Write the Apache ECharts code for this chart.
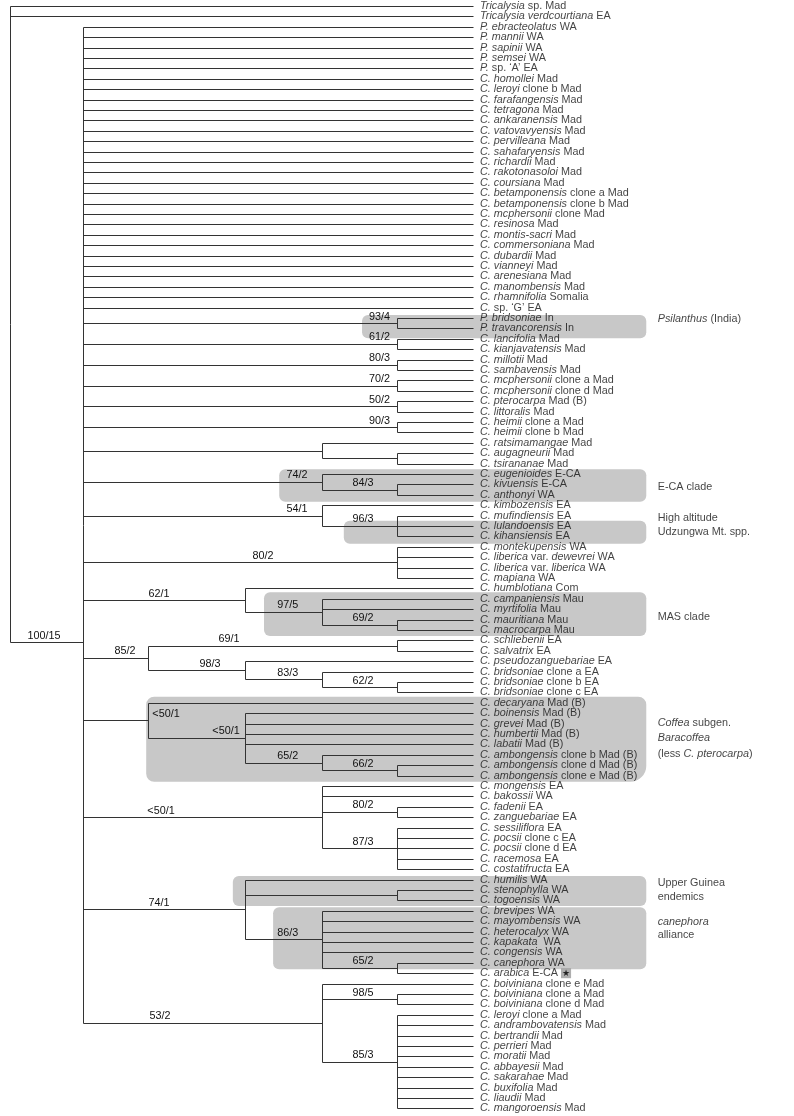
<!DOCTYPE html>
<html><head><meta charset="utf-8">
<script src="https://cdn.jsdelivr.net/npm/echarts@6/dist/echarts.min.js"></script>
<style>html,body{margin:0;padding:0;background:#fff}#c{width:794px;height:1116px}</style>
</head><body><div id="c"></div>
<script>
// ---------- DATA ----------
// taxon labels, top to bottom; *...* = italic
const taxa = [
 "*Tricalysia* sp. Mad","*Tricalysia verdcourtiana* EA","*P. ebracteolatus* WA","*P. mannii* WA","*P. sapinii* WA",
 "*P. semsei* WA","*P.* sp. ‘A’ EA","*C. homollei* Mad","*C. leroyi* clone b Mad","*C. farafangensis* Mad",
 "*C. tetragona* Mad","*C. ankaranensis* Mad","*C. vatovavyensis* Mad","*C. pervilleana* Mad","*C. sahafaryensis* Mad",
 "*C. richardii* Mad","*C. rakotonasoloi* Mad","*C. coursiana* Mad","*C. betamponensis* clone a Mad","*C. betamponensis* clone b Mad",
 "*C. mcphersonii* clone Mad","*C. resinosa* Mad","*C. montis-sacri* Mad","*C. commersoniana* Mad","*C. dubardii* Mad",
 "*C. vianneyi* Mad","*C. arenesiana* Mad","*C. manombensis* Mad","*C. rhamnifolia* Somalia","*C.* sp. ‘G’ EA",
 "*P. bridsoniae* In","*P. travancorensis* In","*C. lancifolia* Mad","*C. kianjavatensis* Mad","*C. millotii* Mad",
 "*C. sambavensis* Mad","*C. mcphersonii* clone a Mad","*C. mcphersonii* clone d Mad","*C. pterocarpa* Mad (B)","*C. littoralis* Mad",
 "*C. heimii* clone a Mad","*C. heimii* clone b Mad","*C. ratsimamangae* Mad","*C. augagneurii* Mad","*C. tsirananae* Mad",
 "*C. eugenioides* E-CA","*C. kivuensis* E-CA","*C. anthonyi* WA","*C. kimbozensis* EA","*C. mufindiensis* EA",
 "*C. lulandoensis* EA","*C. kihansiensis* EA","*C. montekupensis* WA","*C. liberica* var. *dewevrei* WA","*C. liberica* var. *liberica* WA",
 "*C. mapiana* WA","*C. humblotiana* Com","*C. campaniensis* Mau","*C. myrtifolia* Mau","*C. mauritiana* Mau",
 "*C. macrocarpa* Mau","*C. schliebenii* EA","*C. salvatrix* EA","*C. pseudozanguebariae* EA","*C. bridsoniae* clone a EA",
 "*C. bridsoniae* clone b EA","*C. bridsoniae* clone c EA","*C. decaryana* Mad (B)","*C. boinensis* Mad (B)","*C. grevei* Mad (B)",
 "*C. humbertii* Mad (B)","*C. labatii* Mad (B)","*C. ambongensis* clone b Mad (B)","*C. ambongensis* clone d Mad (B)","*C. ambongensis* clone e Mad (B)",
 "*C. mongensis* EA","*C. bakossii* WA","*C. fadenii* EA","*C. zanguebariae* EA","*C. sessiliflora* EA",
 "*C. pocsii* clone c EA","*C. pocsii* clone d EA","*C. racemosa* EA","*C. costatifructa* EA","*C. humilis* WA",
 "*C. stenophylla* WA","*C. togoensis* WA","*C. brevipes* WA","*C. mayombensis* WA","*C. heterocalyx* WA",
 "*C. kapakata*  WA","*C. congensis* WA","*C. canephora* WA","*C. arabica* E-CA {star|★}","*C. boiviniana* clone e Mad",
 "*C. boiviniana* clone a Mad","*C. boiviniana* clone d Mad","*C. leroyi* clone a Mad","*C. andrambovatensis* Mad","*C. bertrandii* Mad",
 "*C. perrieri* Mad","*C. moratii* Mad","*C. abbayesii* Mad","*C. sakarahae* Mad","*C. buxifolia* Mad",
 "*C. liaudii* Mad","*C. mangoroensis* Mad"
];
// topology (Newick, leaves = index in taxa), support values "bootstrap/decay" after ')'
const coffeaClade = "(2,3,4,5,6,7,8,9,10,11,12,13,14,15,16,17,18,19,20,21,22,23,24,25,26,27,28,29," +
 "(30,31)93/4,(32,33)61/2,(34,35)80/3,(36,37)70/2,(38,39)50/2,(40,41)90/3,(42,(43,44))," +
 "(45,(46,47)84/3)74/2,(48,(49,50,51)96/3)54/1,(52,53,54,55)80/2," +
 "(56,(57,58,(59,60)69/2)97/5)62/1,((61,62)69/1,(63,(64,(65,66)62/2)83/3)98/3)85/2," +
 "(67,(68,69,70,71,(72,(73,74)66/2)65/2)<50/1)<50/1,(75,76,(77,78)80/2,(79,80,81,82,83)87/3)<50/1," +
 "(84,(85,86),(87,88,89,90,91,(92,93)65/2)86/3)74/1," +
 "(94,(95,96)98/5,(97,98,99,100,101,102,103,104,105,106)85/3)53/2)100/15";
const treeNewick = "(0,1," + coffeaClade + ")";
// highlighted clades: [first taxon, last taxon]
const cladeRanges = [[30,31],[45,47],[49,51],[57,60],[67,74],[84,86],[87,92]];
const cladeNames = [
 ["*Psilanthus* (India)"],
 ["E-CA clade"],
 ["High altitude","Udzungwa Mt. spp."],
 ["MAS clade"],
 ["*Coffea* subgen.","*Baracoffea*","(less *C. pterocarpa*)"],
 ["Upper Guinea","endemics"],
 ["*canephora*","alliance"]
];

// ---------- LAYOUT (drawing only) ----------
const FONT = '"Liberation Sans", Arial, Helvetica, sans-serif';
const FS = 10.8;
const LINE = '#333';
const BOX = '#c8c8c8';
// display depth of a node of each height rank (0 = tips)
const depthOfRank = [0, 1, 1.99, 3.0, 4.28, 5.13, 6.09];
const coffeaRow = 61.2;          // row at which the root branch meets the Coffea clade
// box geometry in axis units: [left depth, top offset, bottom offset]
const boxGeom = [[1.46,-0.29,0.95],[2.55,-0.45,0.66],[1.70,0.49,0.70],[2.75,-0.62,0.58],[4.30,-0.59,0.59],[3.16,-0.35,0.54],[2.63,-0.34,0.63]];
const boxRight = -2.28;
const cladeTextX = -2.43;
const cladeTextY = [[30.1],[46.25],[49.2,50.55],[58.75],[68.94,70.4,71.95],[84.3,85.7],[88.05,89.33]];
// hand-placed support label centres (px) keyed by label@first tip
const labelCenter = {"100/15@2":44,"62/1@56":159,"85/2@61":125,"69/1@61":229,"98/3@63":210,
  "<50/1@67":166,"<50/1@68":226,"<50/1@75":161,"74/1@84":159,"53/2@94":160,"80/2@52":263,
  "74/2@45":297,"54/1@48":297};

function toRich(s){ return s.replace(/\*([^*]+)\*/g, '{i|$1}'); }

function parse(str){
  let pos=0;
  function node(){
    if(str[pos]==='('){
      pos++; const kids=[];
      while(true){ kids.push(node()); if(str[pos]===','){pos++;continue;} if(str[pos]===')'){pos++;break;} }
      let lab=''; while(pos<str.length && !',)('.includes(str[pos])) lab+=str[pos++];
      return {kids, label:lab};
    }
    let t=''; while(pos<str.length && !',)('.includes(str[pos])) t+=str[pos++];
    return {leaf:+t};
  }
  return node();
}
const root = parse(treeNewick);
function layout(n){
  if(n.kids===undefined){ n.rank=0; n.y=n.leaf; n.first=n.leaf; return; }
  n.kids.forEach(layout);
  n.rank = 1 + Math.max(...n.kids.map(k=>k.rank));
  n.y = (n.kids[0].y + n.kids[n.kids.length-1].y)/2;
  n.first = n.kids[0].first;
  if(n.label==='100/15') n.y = coffeaRow;
}
layout(root);
const D = n => depthOfRank[n.rank];

const segs=[], supports=[];
(function walk(n, parent){
  if(parent){ segs.push([D(parent), n.y, D(n), n.y]); if(n.label) supports.push([D(parent), D(n), n.y, n.label, n.label+'@'+n.first]); }
  if(n.kids){ segs.push([D(n), n.kids[0].y, D(n), n.kids[n.kids.length-1].y]); n.kids.forEach(k=>walk(k,n)); }
})(root,null);

const boxes = cladeRanges.map((r,i)=>[boxGeom[i][0], r[0]+boxGeom[i][1], boxRight, r[1]+boxGeom[i][2], i]);
const cladeTexts=[];
cladeNames.forEach((lines,i)=>lines.forEach((t,j)=>cladeTexts.push([cladeTextX, cladeTextY[i][j], t])));

const chart = echarts.init(document.getElementById('c'), null, {renderer:'canvas'});
const px = v=>Math.round(v)+0.5;
chart.setOption({
  animation:false,
  grid:{left:0,right:0,top:0,bottom:0},
  xAxis:{type:'value', inverse:true, min:-4.2237, max:6.2237, show:false},
  yAxis:{type:'value', inverse:true, min:-0.5769, max:106.731, show:false},
  series:[
    { type:'custom', z:1, data:boxes, renderItem(p,api){
        const a=api.coord([api.value(0),api.value(1)]), b=api.coord([api.value(2),api.value(3)]);
        const big = api.value(4)===4;
        return {type:'rect', shape:{x:a[0],y:a[1],width:b[0]-a[0],height:b[1]-a[1], r: big?[8,8,16,8]:6}, style:{fill:BOX}};
      }},
    { type:'custom', z:2, data:segs, renderItem(p,api){
        const a=api.coord([api.value(0),api.value(1)]), b=api.coord([api.value(2),api.value(3)]);
        return {type:'line', shape:{x1:px(a[0]),y1:px(a[1]),x2:px(b[0]),y2:px(b[1])}, style:{stroke:LINE,lineWidth:1}};
      }},
    { type:'custom', z:3, data:supports.map(s=>[s[0],s[1],s[2]]), renderItem(p,api){
        const a=api.coord([api.value(0),api.value(2)]), b=api.coord([api.value(1),api.value(2)]);
        const s=supports[p.dataIndex];
        const L=b[0]-a[0];
        let cx = L<100 ? b[0]-34 : b[0]-17.5;
        if(labelCenter[s[4]]!==undefined) cx = labelCenter[s[4]];
        return {type:'text', x:cx, y:a[1]-6.5, style:{text:s[3], fill:'#111', fontSize:FS, fontFamily:FONT, align:'center', verticalAlign:'middle'}};
      }},
    { type:'scatter', z:3, symbolSize:0, data:taxa.map((t,i)=>[0,i]),
      label:{show:true, position:'right', distance:7, color:'#111', fontSize:FS, fontFamily:FONT,
        formatter:p=>toRich(taxa[p.dataIndex]),
        rich:{i:{fontStyle:'italic', fontSize:FS, fontFamily:FONT, color:'#111'},
              star:{fontSize:9, color:'#000', backgroundColor:'#9a9a9a', padding:[1,1,0,1], fontFamily:'DejaVu Sans'}}}},
    { type:'scatter', z:3, symbolSize:0, data:cladeTexts.map(c=>[c[0],c[1]]),
      label:{show:true, position:'right', distance:0, color:'#111', fontSize:FS, fontFamily:FONT,
        formatter:p=>toRich(cladeTexts[p.dataIndex][2]),
        rich:{i:{fontStyle:'italic', fontSize:FS, fontFamily:FONT, color:'#111'}}}}
  ]
});
</script></body></html>
